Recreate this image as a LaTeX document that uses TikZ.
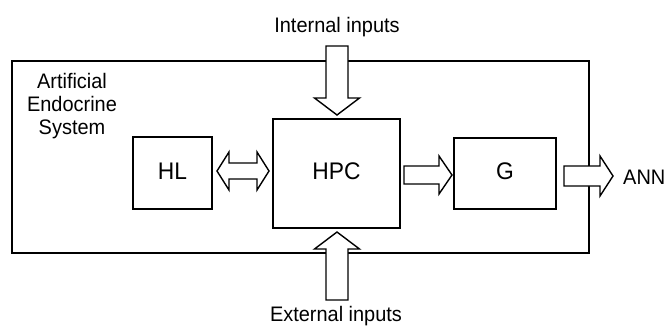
\documentclass[tikz,border=0pt]{standalone}
\usepackage{fontspec}
\setmainfont{Liberation Sans}[FakeStretch=0.95]
\usetikzlibrary{calc}

% block arrow: start point, direction angle, length, shaft half-width, head half-width, head length
\newcommand{\blockarr}[6]{%
  \draw[arrowline, shift={#1}, rotate=#2]
    (0,-#4) -- ({#3-#6},-#4) -- ({#3-#6},-#5) -- (#3,0) -- ({#3-#6},#5)
    -- ({#3-#6},#4) -- (0,#4) -- cycle;}

\begin{document}
\begin{tikzpicture}[x=1pt,y=-1pt,
  box/.style={draw, line width=1.5pt, inner sep=0pt},
  arrowline/.style={draw, line width=1.4pt, fill=white, line join=miter},
  lbl/.style={font=\fontsize{21}{23}\selectfont, inner sep=0pt, anchor=base},
  boxlbl/.style={lbl, font=\fontsize{24}{28}\selectfont},
]
\useasboundingbox (0,0) rectangle (667,325);

% outer system frame
\draw[line width=1.5pt] (12,61) rectangle (589,253);

% inner blocks
\node[box, minimum width=79pt, minimum height=72pt] (hl)  at (172.5,173) {};
\node[box, minimum width=127pt, minimum height=109pt] (hpc) at (336.5,173.5) {};
\node[box, minimum width=102pt, minimum height=71pt] (g)   at (505,173.5) {};
\node[boxlbl] (hltxt)  at (172.5,179) {HL};
\node[boxlbl] (hpctxt) at (336.5,179) {HPC};
\node[boxlbl] (gtxt)   at (505,179) {G};

% system title, three centred lines
\node[lbl] (aes1) at (72,88)  {Artificial};
\node[lbl] (aes2) at (72,111) {Endocrine};
\node[lbl] (aes3) at (72,134) {System};

% outside labels
\node[lbl] (intin) at (337,32) {Internal inputs};
\node[lbl] (extin) at (336,321) {External inputs};
\node[lbl, anchor=base west] (ann) at (623,184) {ANN};

% internal inputs into HPC
\blockarr{(337,46)}{-90}{69}{11}{22.5}{17}
% external inputs into HPC
\blockarr{(337,300)}{90}{68}{11}{22.5}{17}
% HPC to G
\blockarr{(404,175)}{0}{48}{9}{19}{13}
% G to ANN
\blockarr{(564,176)}{0}{49}{10}{20}{13}
% HL <-> HPC
\draw[arrowline] (217,171) -- (229,152) -- (229,163) -- (257,163) -- (257,152)
  -- (269,171) -- (257,190) -- (257,179) -- (229,179) -- (229,190) -- cycle;
\end{tikzpicture}
\end{document}
